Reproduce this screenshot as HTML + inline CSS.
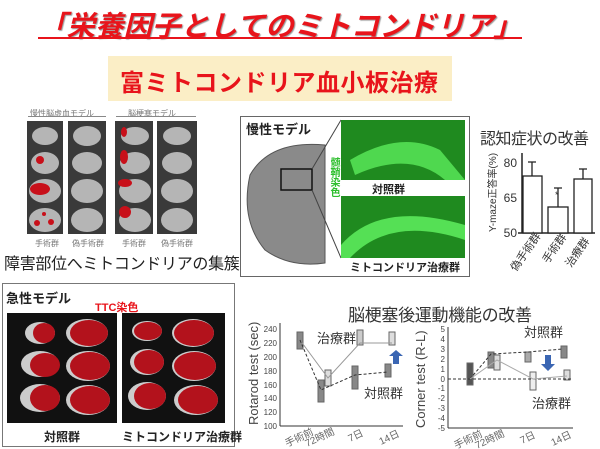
<!DOCTYPE html>
<html><head><meta charset="utf-8"><style>
body{margin:0;width:600px;height:449px;background:#fff;position:relative;overflow:hidden;font-family:"Liberation Sans","Noto Sans CJK JP",sans-serif}
.a{position:absolute;white-space:nowrap}
</style></head><body>
<div class="a" style="left:38px;top:4px;font-size:28.5px;font-weight:bold;font-style:italic;color:#e8141b;text-shadow:1px 1px 1px #999">「栄養因子としてのミトコンドリア」</div>
<div class="a" style="left:38px;top:37px;width:484px;height:2px;background:#e8141b"></div>
<div class="a" style="left:108px;top:56px;width:344px;height:45px;background:#fbeec6"></div>
<div class="a" style="left:120px;top:63px;font-size:24px;font-weight:bold;color:#e8141b;letter-spacing:0.5px">富ミトコンドリア血小板治療</div>

<div class="a" style="left:30px;top:108px;font-size:8px;color:#777">慢性脳虚血モデル</div>
<div class="a" style="left:28px;top:116px;width:78px;height:1px;background:#888"></div>
<div class="a" style="left:128px;top:108px;font-size:8px;color:#777">脳梗塞モデル</div>
<div class="a" style="left:116px;top:116px;width:80px;height:1px;background:#888"></div>
<svg class="a" style="left:0;top:0" width="600" height="449">
<g fill="#3a3a3a"><rect x="27" y="121" width="36" height="113"/><rect x="68" y="121" width="38" height="113"/><rect x="115" y="121" width="38" height="113"/><rect x="157" y="121" width="40" height="113"/></g>
<g fill="#b5b5b5"><ellipse cx="45" cy="136" rx="13" ry="9"/><ellipse cx="45" cy="163" rx="14" ry="11"/><ellipse cx="45" cy="191" rx="16" ry="12"/><ellipse cx="45" cy="220" rx="16" ry="12"/>
<ellipse cx="87" cy="136" rx="14" ry="10"/><ellipse cx="87" cy="163" rx="15" ry="11"/><ellipse cx="87" cy="191" rx="16" ry="12"/><ellipse cx="87" cy="220" rx="16" ry="12"/>
<ellipse cx="135" cy="136" rx="14" ry="9"/><ellipse cx="135" cy="163" rx="15" ry="11"/><ellipse cx="135" cy="191" rx="16" ry="12"/><ellipse cx="135" cy="220" rx="16" ry="12"/>
<ellipse cx="177" cy="136" rx="14" ry="9"/><ellipse cx="177" cy="163" rx="15" ry="11"/><ellipse cx="177" cy="191" rx="16" ry="12"/><ellipse cx="177" cy="220" rx="16" ry="12"/></g>
<g fill="#c8101a"><circle cx="40" cy="160" r="4"/><ellipse cx="40" cy="189" rx="10" ry="6"/><circle cx="37" cy="223" r="3"/><circle cx="51" cy="222" r="3"/><circle cx="44" cy="214" r="2"/>
<ellipse cx="124" cy="132" rx="3" ry="5"/><ellipse cx="124" cy="157" rx="4" ry="7"/><ellipse cx="125" cy="183" rx="7" ry="4"/><ellipse cx="125" cy="212" rx="6" ry="6"/></g>
</svg>
<div class="a" style="left:35px;top:238px;font-size:8px;color:#777">手術群</div>
<div class="a" style="left:72px;top:238px;font-size:8px;color:#777">偽手術群</div>
<div class="a" style="left:122px;top:238px;font-size:8px;color:#777">手術群</div>
<div class="a" style="left:161px;top:238px;font-size:8px;color:#777">偽手術群</div>
<div class="a" style="left:4px;top:250px;font-size:16px;letter-spacing:-0.3px;color:#222">障害部位へミトコンドリアの集簇</div>

<div class="a" style="left:240px;top:116px;width:228px;height:159px;border:1px solid #666"></div>
<div class="a" style="left:246px;top:119px;font-size:13px;font-weight:bold;color:#222">慢性モデル</div>
<svg class="a" style="left:0;top:0" width="600" height="449">
<path d="M325 145 Q270 140 250 175 Q240 220 265 250 Q290 268 325 263 Z" fill="#8a8a8a" stroke="#555"/>
<rect x="281" y="169" width="31" height="21" fill="none" stroke="#111" stroke-width="1.5"/>
<line x1="312" y1="169" x2="341" y2="120" stroke="#444"/><line x1="312" y1="190" x2="341" y2="258" stroke="#444"/>
<rect x="341" y="120" width="124" height="60" fill="#1f8a1f"/>
<path d="M350 160 Q400 130 440 150 L465 180 L445 180 Q410 150 355 175Z" fill="#4fd84f"/>
<rect x="341" y="196" width="124" height="62" fill="#1f8a1f"/>
<path d="M341 245 Q380 200 465 225 L465 240 Q390 215 350 258 L341 258Z" fill="#55e055"/>
<line x1="522" y1="153" x2="522" y2="233" stroke="#222" stroke-width="1.5"/><line x1="518" y1="233" x2="595" y2="233" stroke="#222" stroke-width="1.5"/>
<g stroke="#222" fill="#fff" stroke-width="1.3"><rect x="523" y="176" width="19" height="57"/><rect x="548" y="207" width="20" height="26"/><rect x="574" y="179" width="18" height="54"/>
<path d="M532 176V162M528 162h8M558 207V188M554 188h8M583 179V169M579 169h8"/></g>
<text x="555" y="198" font-size="9" fill="#333">*</text>
<g font-size="12" fill="#333" text-anchor="end"><text x="517" y="167">80</text><text x="517" y="202">65</text><text x="517" y="237">50</text></g>
<text transform="translate(496,232) rotate(-90)" font-size="10" fill="#333">Y-maze正答率(%)</text>
<g font-size="11" fill="#333"><text transform="translate(516,272) rotate(-55)">偽手術群</text><text transform="translate(548,264) rotate(-55)">手術群</text><text transform="translate(571,268) rotate(-55)">治療群</text></g>
</svg>
<div class="a" style="left:328px;top:157px;font-size:10px;line-height:11px;color:#2fbf2f;font-weight:bold;writing-mode:vertical-rl">髄鞘染色</div>
<div class="a" style="left:372px;top:181px;font-size:11px;font-weight:bold;color:#222">対照群</div>
<div class="a" style="left:350px;top:259px;font-size:11px;font-weight:bold;color:#222">ミトコンドリア治療群</div>
<div class="a" style="left:480px;top:125px;font-size:16px;letter-spacing:-0.5px;color:#333">認知症状の改善</div>

<div class="a" style="left:2px;top:283px;width:231px;height:162px;border:1px solid #777"></div>
<div class="a" style="left:6px;top:288px;font-size:13px;font-weight:bold;color:#222">急性モデル</div>
<div class="a" style="left:95px;top:299px;font-size:11px;font-weight:bold;color:#e8141b">TTC染色</div>
<svg class="a" style="left:0;top:0" width="600" height="449">
<rect x="7" y="313" width="110" height="110" fill="#111"/><rect x="122" y="313" width="103" height="110" fill="#111"/>
<g fill="#ccc"><ellipse cx="40" cy="333" rx="15" ry="11"/><ellipse cx="87" cy="333" rx="21" ry="14"/><ellipse cx="40" cy="364" rx="19" ry="13"/><ellipse cx="88" cy="366" rx="22" ry="15"/><ellipse cx="40" cy="398" rx="20" ry="14"/><ellipse cx="88" cy="400" rx="22" ry="15"/>
<ellipse cx="147" cy="331" rx="15" ry="10"/><ellipse cx="193" cy="333" rx="21" ry="14"/><ellipse cx="147" cy="362" rx="17" ry="13"/><ellipse cx="194" cy="366" rx="22" ry="15"/><ellipse cx="147" cy="396" rx="19" ry="14"/><ellipse cx="196" cy="400" rx="22" ry="15"/></g>
<g fill="#b3121c"><ellipse cx="44" cy="333" rx="11" ry="10"/><ellipse cx="89" cy="333" rx="19" ry="13"/><ellipse cx="45" cy="365" rx="15" ry="12"/><ellipse cx="90" cy="366" rx="20" ry="14"/><ellipse cx="45" cy="398" rx="15" ry="13"/><ellipse cx="90" cy="400" rx="20" ry="14"/>
<ellipse cx="148" cy="331" rx="14" ry="9"/><ellipse cx="194" cy="333" rx="20" ry="13"/><ellipse cx="149" cy="362" rx="15" ry="12"/><ellipse cx="195" cy="366" rx="21" ry="14"/><ellipse cx="150" cy="396" rx="16" ry="13"/><ellipse cx="198" cy="400" rx="20" ry="14"/></g>
</svg>
<div class="a" style="left:44px;top:428px;font-size:12px;font-weight:bold;color:#222">対照群</div>
<div class="a" style="left:122px;top:428px;font-size:12px;font-weight:bold;color:#222">ミトコンドリア治療群</div>

<div class="a" style="left:348px;top:301px;font-size:17px;letter-spacing:-0.3px;color:#333">脳梗塞後運動機能の改善</div>
<svg class="a" style="left:0;top:0" width="600" height="449">
<g stroke="#333" stroke-width="1"><line x1="280" y1="323" x2="280" y2="426"/><line x1="280" y1="426" x2="403" y2="426"/>
<line x1="448" y1="327" x2="448" y2="428"/><line x1="448" y1="428" x2="573" y2="428"/></g>
<g font-size="8" fill="#444" text-anchor="end"><text x="277" y="332">240</text><text x="277" y="346">220</text><text x="277" y="360">200</text><text x="277" y="374">180</text><text x="277" y="388">160</text><text x="277" y="401">140</text><text x="277" y="415">120</text><text x="277" y="429">100</text>
<text x="445" y="332">5</text><text x="445" y="342">4</text><text x="445" y="352">3</text><text x="445" y="362">2</text><text x="445" y="372">1</text><text x="445" y="382">0</text><text x="445" y="391">-1</text><text x="445" y="401">-2</text><text x="445" y="411">-3</text><text x="445" y="421">-4</text><text x="445" y="431">-5</text></g>
<text transform="translate(258,425) rotate(-90)" font-size="13" fill="#444">Rotarod test (sec)</text>
<text transform="translate(425,428) rotate(-90)" font-size="13" fill="#444">Corner test (R-L)</text>
<g font-size="10" fill="#666"><text transform="translate(287,447) rotate(-25)">手術前</text><text transform="translate(307,447) rotate(-25)">72時間</text><text transform="translate(350,442) rotate(-25)">7日</text><text transform="translate(381,445) rotate(-25)">14日</text>
<text transform="translate(456,449) rotate(-25)">手術前</text><text transform="translate(477,449) rotate(-25)">72時間</text><text transform="translate(522,444) rotate(-25)">7日</text><text transform="translate(553,446) rotate(-25)">14日</text></g>
<g fill="none" stroke="#666" stroke-width="1"><rect x="297" y="332" width="6" height="17" fill="#888"/><rect x="318" y="380" width="6" height="22" fill="#888"/><rect x="325" y="370" width="6" height="16" fill="#ddd"/><rect x="352" y="366" width="6" height="23" fill="#888"/><rect x="357" y="330" width="6" height="15" fill="#ccc"/><rect x="385" y="364" width="6" height="13" fill="#888"/><rect x="389" y="332" width="6" height="13" fill="#ddd"/>
<path d="M300 340L328 378L360 343L392 343" stroke="#999"/><path d="M300 340L321 390L355 375L388 372" stroke-dasharray="3 2" stroke="#333"/>
<rect x="467" y="363" width="6" height="22" fill="#555"/><rect x="488" y="352" width="6" height="16" fill="#888"/><rect x="494" y="355" width="6" height="15" fill="#ddd"/><rect x="525" y="352" width="6" height="10" fill="#aaa"/><rect x="530" y="372" width="6" height="18" fill="#eee"/><rect x="561" y="346" width="6" height="12" fill="#888"/><rect x="564" y="370" width="6" height="10" fill="#ddd"/>
<path d="M448 379H573" stroke="#333" stroke-dasharray="3 2"/><path d="M470 379L491 354L528 352L563 349" stroke="#333" stroke-dasharray="3 2"/><path d="M470 379L497 360L533 379L567 376" stroke="#aaa"/></g>
<path d="M394 358h4v-8h-4l7-6l7 6h-4v8h4z" fill="#3b66b3" transform="translate(-5,6)"/>
<path d="M545 355h6v9h4l-7 7l-7-7h4z" fill="#3b66b3"/>
<g font-size="13" fill="#333"><text x="317" y="343">治療群</text><text x="364" y="398">対照群</text><text x="524" y="337">対照群</text><text x="532" y="408">治療群</text></g>
</svg>
</body></html>
